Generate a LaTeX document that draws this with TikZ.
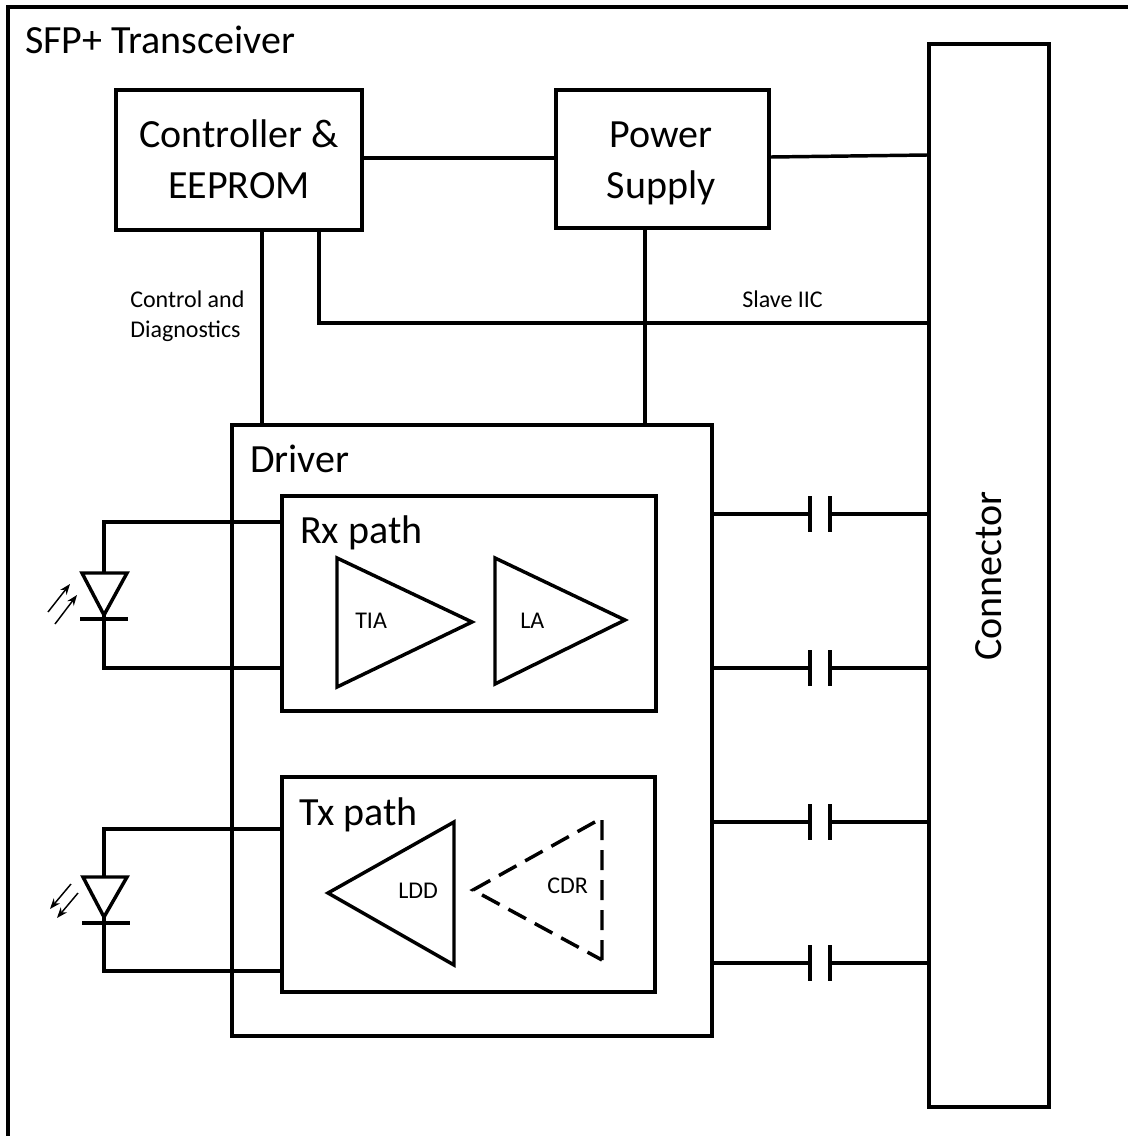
\documentclass[tikz,border=0pt]{standalone}
\usepackage{fontspec}
\setmainfont{Carlito}
\usetikzlibrary{fit,arrows.meta}
\begin{document}
\begin{tikzpicture}[x=0.75pt,y=-0.75pt,
  line join=miter,
  wire/.style={line width=2.6pt},
  box/.style={draw,line width=2.6pt,inner sep=0pt,fill=none},
  big/.style={font=\fontsize{30}{36}\selectfont,inner sep=0pt},
  small/.style={font=\fontsize{18}{22}\selectfont,inner sep=0pt},
  ray/.style={line width=1.1pt,-{Stealth[length=8pt,width=6pt]}},
  dashedtri/.style={line width=2.6pt,dash pattern=on 15pt off 7.5pt}]
\useasboundingbox (0,0) rectangle (1128,1136);
\fill[white] (0,0) rectangle (1128,1136);
% outer frame
\draw[line width=2.4pt] (8,1136) -- (8,7) -- (1128,7);
\node[big,anchor=base west] (title) at (25,53) {SFP+ Transceiver};
% boxes
\node[box,fit={(116,90)(362,230)}] (ctrl) {};
\node[big,anchor=base] (ctrlA) at (239,147) {Controller \&};
\node[big,anchor=base] (ctrlB) at (239,198) {EEPROM};
\node[box,fit={(556,90)(769,228)}] (psu) {};
\node[big,anchor=base] (psuA) at (661,147) {Power};
\node[big,anchor=base] (psuB) at (661,198) {Supply};
\node[box,fit={(929,44)(1049,1107)}] (con) {};
\node[big,rotate=90] (conT) at (989,576) {Connector};
\node[box,fit={(232,425)(712,1036)}] (drv) {};
\node[big,anchor=base west] (drvT) at (250,472) {Driver};
\node[box,fit={(282,496)(656,711)}] (rx) {};
\node[big,anchor=base west] (rxT) at (300,543) {Rx path};
\node[box,fit={(282,777)(655,992)}] (tx) {};
\node[big,anchor=base west] (txT) at (299,825) {Tx path};
% top connections
\draw[wire] (ctrl.east |- 0,158) -- (psu.west |- 0,158);
\draw[wire] (psu.east |- 0,157) -- (con.west |- 0,155);
\draw[wire] (ctrl.south -| 262,0) -- (drv.north -| 262,0);
\draw[wire] (ctrl.south -| 319,0) -- (319,323) -- (con.west |- 0,323);
\draw[wire] (psu.south -| 645,0) -- (drv.north -| 645,0);
\node[small,anchor=base west] (cd1) at (130,307) {Control and};
\node[small,anchor=base west] (cd2) at (130,337) {Diagnostics};
\node[small,anchor=base west] (iic) at (742,307) {Slave IIC};
% amplifiers
\draw[wire] (337,558) -- (472,622) -- (337,687) -- cycle;
\node[small,anchor=base west] (tia) at (355,628) {TIA};
\draw[wire] (495,558) -- (625,620) -- (495,684) -- cycle;
\node[small,anchor=base west] (la) at (520,628) {LA};
\draw[wire] (454,822) -- (328,893) -- (454,965) -- cycle;
\node[small,anchor=base west] (ldd) at (398,898) {LDD};
\draw[dashedtri] (602,960) -- (602,818) -- (473,890) -- (602,960);
\node[small,anchor=base west] (cdr) at (547,893) {CDR};
% capacitors
\foreach \yy in {514,668,822,963}{
  \draw[wire] (drv.east |- 0,\yy) -- (810,\yy);
  \draw[wire] (810,\yy-18) -- (810,\yy+18);
  \draw[wire] (830,\yy-18) -- (830,\yy+18);
  \draw[wire] (830,\yy) -- (con.west |- 0,\yy);
}
% Rx photodiode
\draw[wire] (rx.west |- 0,522) -- (104,522) -- (104,573);
\draw[wire,fill=white] (82,573) -- (127,573) -- (104,615) -- cycle;
\draw[wire] (80,619) -- (128,619);
\draw[wire] (104,615) -- (104,668) -- (rx.west |- 0,668);
\draw[ray] (48,612) -- (70,584);
\draw[ray] (55,624) -- (77,595);
% Tx laser diode
\draw[wire] (tx.west |- 0,829) -- (104,829) -- (104,877);
\draw[wire,fill=white] (83,877) -- (127,877) -- (104,917) -- cycle;
\draw[wire] (82,923) -- (130,923);
\draw[wire] (104,917) -- (104,971) -- (tx.west |- 0,971);
\draw[ray] (71,884) -- (50,909);
\draw[ray] (78,893) -- (57,918);
\end{tikzpicture}
\end{document}
